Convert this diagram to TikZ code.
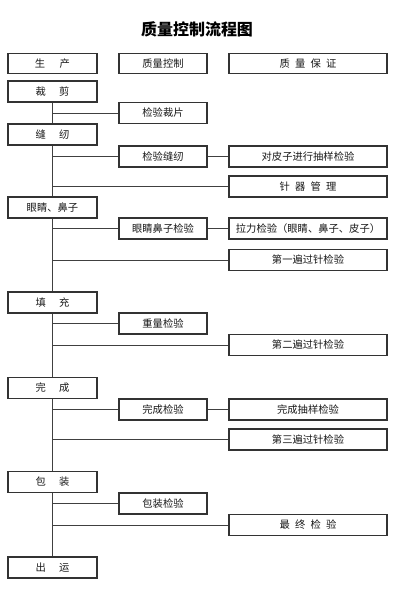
\documentclass[tikz,border=0pt]{standalone}
\usepackage{fontspec}
\newfontfamily\cjk{Noto Sans CJK SC}
\begin{document}
\begin{tikzpicture}[x=1pt,y=-1pt,
  box/.style={draw=black!80,line width=1.2pt,fill=white,rectangle,inner sep=0pt,
    minimum height=21pt,font=\cjk\fontsize{10.3}{12}\selectfont,text=black!90},
  lbox/.style={box,minimum width=89pt},
  mbox/.style={box,minimum width=88pt},
  rbox/.style={box,minimum width=158pt},
  link/.style={draw=black!75,line width=1pt}]
\useasboundingbox (0,0) rectangle (400,598);
\node[font=\cjk\bfseries\fontsize{16}{18}\selectfont] (title) at (197,29) {质量控制流程图};
% header
\node[lbox,minimum height=20pt] (p0) at (52.5,63.5) {生\hspace{1.4em}产};
\node[mbox,minimum height=20pt] (q0) at (163,63.5) {质量控制};
\node[rbox,minimum height=20pt] (a0) at (308,63.5) {质\hspace{0.5em}量\hspace{0.5em}保\hspace{0.5em}证};
% main column
\node[lbox] (m1) at (52.5,91.5) {裁\hspace{1.3em}剪};
\node[lbox] (m2) at (52.5,134.5) {缝\hspace{1.3em}纫};
\node[lbox] (m3) at (52.5,207.5) {眼睛、鼻子};
\node[lbox] (m4) at (52.5,302.5) {填\hspace{1.3em}充};
\node[lbox] (m5) at (52.5,388) {完\hspace{1.3em}成};
\node[lbox] (m6) at (52.5,482) {包\hspace{1.3em}装};
\node[lbox] (m7) at (52.5,567.5) {出\hspace{1.3em}运};
% middle column
\node[mbox] (c1) at (163,113) {检验裁片};
\node[mbox] (c2) at (163,156.5) {检验缝纫};
\node[mbox] (c4) at (163,228.5) {眼睛鼻子检验};
\node[mbox] (c6) at (163,323.5) {重量检验};
\node[mbox] (c7) at (163,409.5) {完成检验};
\node[mbox] (c9) at (163,503.5) {包装检验};
% right column
\node[rbox] (a2) at (308,156.5) {对皮子进行抽样检验};
\node[rbox] (a3) at (308,186.5) {针\hspace{0.5em}器\hspace{0.5em}管\hspace{0.5em}理};
\node[rbox] (a4) at (308,228.5) {拉力检验（眼睛、鼻子、皮子）};
\node[rbox] (a5) at (308,260) {第一遍过针检验};
\node[rbox] (a6) at (308,345) {第二遍过针检验};
\node[rbox] (a7) at (308,409.5) {完成抽样检验};
\node[rbox] (a8) at (308,439.5) {第三遍过针检验};
\node[rbox] (a9) at (308,525) {最\hspace{0.5em}终\hspace{0.5em}检\hspace{0.5em}验};
% spine
\draw[link] (m1.south) -- (m2.north);
\draw[link] (m2.south) -- (m3.north);
\draw[link] (m3.south) -- (m4.north);
\draw[link] (m4.south) -- (m5.north);
\draw[link] (m5.south) -- (m6.north);
\draw[link] (m6.south) -- (m7.north);
% branches
\draw[link] (m1.south |- c1.west) -- (c1.west);
\draw[link] (m2.south |- c2.west) -- (c2.west);
\draw[link] (c2.east) -- (a2.west);
\draw[link] (m2.south |- a3.west) -- (a3.west);
\draw[link] (m3.south |- c4.west) -- (c4.west);
\draw[link] (c4.east) -- (a4.west);
\draw[link] (m3.south |- a5.west) -- (a5.west);
\draw[link] (m4.south |- c6.west) -- (c6.west);
\draw[link] (m4.south |- a6.west) -- (a6.west);
\draw[link] (m5.south |- c7.west) -- (c7.west);
\draw[link] (c7.east) -- (a7.west);
\draw[link] (m5.south |- a8.west) -- (a8.west);
\draw[link] (m6.south |- c9.west) -- (c9.west);
\draw[link] (m6.south |- a9.west) -- (a9.west);
\end{tikzpicture}
\end{document}
